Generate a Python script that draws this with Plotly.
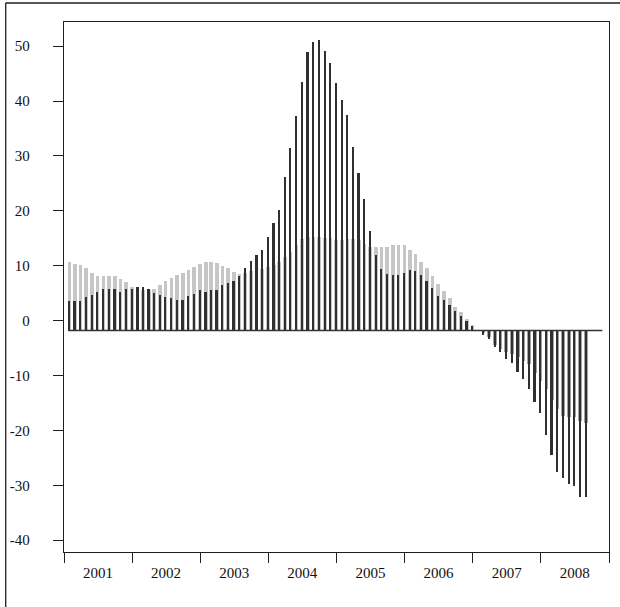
import pandas as pd
import plotly.graph_objects as go

# Monthly data, Jan 2001 - Aug 2008
months = pd.date_range("2001-01-01", periods=92, freq="MS").strftime("%Y-%m").tolist()

grey_vals = [10.7, 10.4, 10.2, 9.6, 8.7, 8.2, 8.2, 8.2, 8.2, 7.6, 7.1, 6.2,
             6.1, 5.6, 5.6, 5.8, 6.5, 7.2, 7.8, 8.3, 8.7, 9.3, 9.8, 10.4,
             10.7, 10.7, 10.5, 10.0, 9.6, 8.9, 8.5, 8.7, 9.0, 9.0, 9.4, 9.7,
             10.2, 10.7, 11.5, 12.5, 13.7, 14.9, 15.2, 15.2, 15.2, 15.1, 15.1, 14.6,
             14.6, 14.9, 14.9, 14.6, 14.0, 13.5, 13.4, 13.4, 13.5, 13.8, 13.8, 13.8,
             12.9, 12.2, 10.6, 9.6, 8.2, 6.7, 5.4, 4.1, 2.4, 1.5, 0.3, -0.8,
             -1.8, -2.3, -3.0, -4.4, -5.1, -5.7, -6.1, -6.6, -7.3, -7.9, -9.5, -11.0,
             -12.4, -14.4, -16.1, -17.4, -17.5, -17.5, -18.3, -18.6]

black_vals = [3.5, 3.5, 3.5, 4.3, 4.7, 5.2, 5.7, 5.8, 5.7, 5.2, 5.7, 5.8,
              6.2, 6.2, 5.8, 5.1, 4.6, 4.3, 4.1, 3.8, 3.8, 4.5, 4.9, 5.6,
              5.2, 5.6, 5.6, 6.5, 6.8, 7.2, 8.2, 9.6, 10.8, 11.9, 12.9, 15.2,
              17.7, 20.1, 26.2, 31.5, 37.2, 43.4, 48.9, 50.8, 51.2, 49.2, 47.0, 43.2,
              40.2, 37.4, 31.6, 26.9, 22.2, 16.4, 11.9, 9.4, 8.5, 8.3, 8.3, 8.7,
              9.3, 9.0, 8.3, 7.3, 6.0, 4.5, 3.8, 2.8, 1.8, 0.9, -0.1, -0.9,
              -1.8, -2.6, -3.4, -4.8, -5.8, -6.9, -7.7, -9.3, -10.7, -12.4, -14.9, -16.9,
              -20.9, -24.4, -27.6, -28.6, -29.7, -30.2, -32.2, -32.2]

y_ticks = [-40, -30, -20, -10, 0, 10, 20, 30, 40, 50]
y_ticktext = [str(v) for v in y_ticks]
baseline = -1.8

# bars drawn at the end of each month
x_dates = (pd.to_datetime(months) + pd.offsets.MonthEnd(0))
DAY = 86400000
grey_colors = ["#c6c6c6" if v >= baseline else "#a2a2a2" for v in grey_vals]

fig = go.Figure()
fig.add_trace(go.Bar(
    x=x_dates, y=[v - baseline for v in grey_vals], base=baseline,
    width=19.5 * DAY, marker=dict(color=grey_colors, line=dict(width=0)),
    showlegend=False, hoverinfo="skip"))
fig.add_trace(go.Bar(
    x=x_dates, y=[v - baseline for v in black_vals], base=baseline,
    width=9 * DAY, marker=dict(color="#303030", line=dict(width=0)),
    showlegend=False, hoverinfo="skip"))

AX = "#1e1e1e"
fig.update_layout(
    width=620, height=607,
    margin=dict(l=63, r=10, t=22, b=55),
    paper_bgcolor="white", plot_bgcolor="white",
    barmode="overlay", bargap=0,
    font=dict(family="Liberation Serif", size=15, color="#111"),
    xaxis=dict(
        type="date", range=["2001-01-01", "2009-01-01"],
        ticklabelmode="period", dtick="M12", tick0="2001-01-01", tickformat="%Y",
        ticks="outside", ticklen=10, tickwidth=1.3, tickcolor=AX,
        ticklabelstandoff=-3,
        showline=True, linecolor=AX, linewidth=1.3, mirror=True,
        showgrid=False, zeroline=False,
    ),
    yaxis=dict(
        range=[-42.15, 54.4],
        tickvals=y_ticks, ticktext=y_ticktext,
        ticks="outside", ticklen=10, tickwidth=1.3, tickcolor=AX,
        ticklabelstandoff=20,
        showline=True, linecolor=AX, linewidth=1.3, mirror=True,
        showgrid=False, zeroline=False,
    ),
    shapes=[
        # baseline of the bars
        dict(type="line", xref="paper", yref="y",
             x0=(67.3 - 63) / 547, x1=(603.3 - 63) / 547, y0=baseline, y1=baseline,
             line=dict(color="#333", width=1.6)),
        # outer frame (top and left)
        dict(type="line", xref="paper", yref="paper",
             x0=(4.5 - 63) / 547, x1=1.03, y0=(552 - 3) / 530, y1=(552 - 3) / 530,
             line=dict(color=AX, width=1.3)),
        dict(type="line", xref="paper", yref="paper",
             x0=(4.5 - 63) / 547, x1=(4.5 - 63) / 547, y0=(552 - 3) / 530, y1=-0.12,
             line=dict(color=AX, width=1.3)),
    ],
)

fig.write_html(
    "out.html",
    config={"displayModeBar": False},
    post_script="document.body.style.margin='0';document.body.style.overflow='hidden';",
)
